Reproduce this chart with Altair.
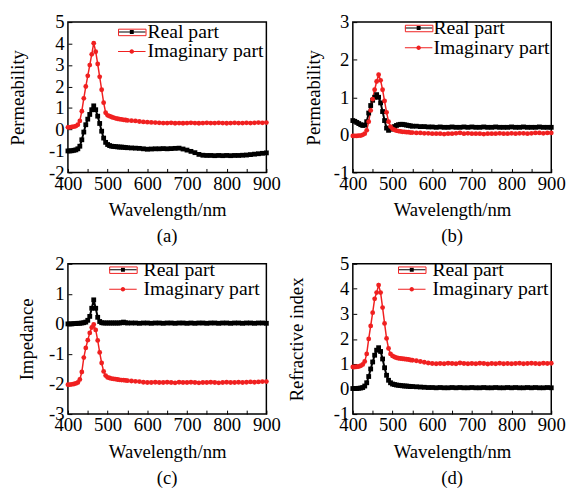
import altair as alt
import pandas as pd

# ---------------- data ----------------
wavelength = [400, 405, 410, 415, 420, 425, 430, 435, 440, 445, 450, 455, 460, 465, 470,
              475, 480, 485, 490, 495, 500, 505, 510, 515, 520, 525, 530, 535, 540, 545, 550,
              560, 570, 580, 590, 600, 610, 620, 630, 640, 650, 660, 670, 680, 690, 700,
              710, 720, 730, 740, 750, 760, 770, 780, 790, 800, 810, 820, 830, 840, 850,
              860, 870, 880, 890, 900]

a_real = [-1.00, -1.00, -0.99, -0.97, -0.95, -0.90, -0.78, -0.48, -0.12, 0.22, 0.48, 0.70, 0.92, 1.10, 0.92,
          0.62, 0.28, -0.08, -0.40, -0.60, -0.70, -0.75, -0.78, -0.79, -0.80, -0.81, -0.82, -0.82, -0.83, -0.84, -0.85,
          -0.86, -0.87, -0.88, -0.90, -0.92, -0.91, -0.90, -0.90, -0.89, -0.90, -0.89, -0.88, -0.87, -0.91, -0.96,
          -1.02, -1.08, -1.16, -1.20, -1.21, -1.21, -1.22, -1.21, -1.22, -1.21, -1.22, -1.21, -1.21, -1.20, -1.19,
          -1.17, -1.15, -1.13, -1.11, -1.09]
a_imag = [0.10, 0.10, 0.12, 0.13, 0.16, 0.22, 0.40, 0.85, 1.45, 2.00, 2.50, 3.00, 3.50, 4.02, 3.62,
          3.05, 2.45, 1.85, 1.25, 0.78, 0.66, 0.62, 0.58, 0.55, 0.52, 0.50, 0.48, 0.47, 0.45, 0.44, 0.42,
          0.41, 0.40, 0.37, 0.35, 0.34, 0.33, 0.32, 0.31, 0.30, 0.30, 0.31, 0.29, 0.30, 0.29, 0.30,
          0.31, 0.30, 0.29, 0.30, 0.31, 0.30, 0.30, 0.31, 0.30, 0.29, 0.30, 0.31, 0.30, 0.30, 0.31,
          0.30, 0.31, 0.32, 0.31, 0.32]

b_real = [0.38, 0.36, 0.33, 0.30, 0.27, 0.25, 0.26, 0.35, 0.58, 0.78, 0.92, 1.00, 1.07, 1.00, 0.85,
          0.62, 0.38, 0.18, 0.12, 0.15, 0.19, 0.22, 0.25, 0.27, 0.28, 0.28, 0.27, 0.26, 0.25, 0.24, 0.23,
          0.23, 0.22, 0.22, 0.21, 0.21, 0.20, 0.21, 0.20, 0.20, 0.21, 0.20, 0.20, 0.21, 0.20, 0.21,
          0.20, 0.20, 0.21, 0.20, 0.20, 0.21, 0.20, 0.20, 0.20, 0.21, 0.20, 0.20, 0.21, 0.20, 0.20,
          0.20, 0.21, 0.20, 0.20, 0.20]
b_imag = [-0.03, -0.03, -0.03, -0.02, -0.02, 0.00, 0.03, 0.12, 0.35, 0.65, 0.95, 1.20, 1.42, 1.60, 1.45,
          1.20, 0.90, 0.60, 0.35, 0.22, 0.16, 0.13, 0.11, 0.10, 0.09, 0.08, 0.08, 0.07, 0.07, 0.06, 0.06,
          0.05, 0.05, 0.04, 0.04, 0.03, 0.03, 0.03, 0.02, 0.03, 0.03, 0.04, 0.05, 0.03, 0.04, 0.03,
          0.03, 0.03, 0.02, 0.03, 0.03, 0.03, 0.04, 0.03, 0.03, 0.04, 0.03, 0.04, 0.04, 0.03, 0.04,
          0.05, 0.05, 0.04, 0.05, 0.05]

c_real = [0.00, 0.00, 0.00, 0.01, 0.01, 0.02, 0.02, 0.03, 0.04, 0.06, 0.12, 0.25, 0.52, 0.80, 0.52,
          0.22, 0.08, 0.04, 0.03, 0.03, 0.03, 0.03, 0.03, 0.03, 0.03, 0.03, 0.03, 0.04, 0.06, 0.04, 0.03,
          0.03, 0.03, 0.02, 0.03, 0.03, 0.02, 0.03, 0.03, 0.02, 0.03, 0.03, 0.02, 0.03, 0.03, 0.02,
          0.03, 0.02, 0.03, 0.03, 0.02, 0.03, 0.03, 0.02, 0.03, 0.03, 0.02, 0.03, 0.03, 0.02, 0.03,
          0.03, 0.02, 0.03, 0.03, 0.02]
c_imag = [-2.02, -2.02, -2.01, -2.00, -1.98, -1.95, -1.85, -1.60, -1.12, -0.80, -0.54, -0.30, -0.12, -0.02, -0.20,
          -0.55, -0.95, -1.30, -1.58, -1.72, -1.78, -1.80, -1.82, -1.83, -1.84, -1.85, -1.86, -1.87, -1.87, -1.88, -1.89,
          -1.90, -1.91, -1.92, -1.94, -1.95, -1.95, -1.94, -1.95, -1.95, -1.94, -1.95, -1.96, -1.94, -1.95, -1.95,
          -1.94, -1.95, -1.96, -1.95, -1.95, -1.94, -1.95, -1.96, -1.95, -1.94, -1.95, -1.95, -1.94, -1.95, -1.94,
          -1.93, -1.94, -1.93, -1.92, -1.92]

d_real = [0.02, 0.02, 0.02, 0.03, 0.04, 0.06, 0.12, 0.25, 0.50, 0.80, 1.08, 1.35, 1.55, 1.65, 1.50,
          1.20, 0.85, 0.55, 0.35, 0.25, 0.20, 0.18, 0.16, 0.15, 0.14, 0.13, 0.12, 0.12, 0.11, 0.10, 0.10,
          0.09, 0.08, 0.07, 0.06, 0.06, 0.05, 0.06, 0.05, 0.05, 0.06, 0.05, 0.06, 0.05, 0.05, 0.06,
          0.05, 0.05, 0.06, 0.05, 0.05, 0.06, 0.05, 0.05, 0.06, 0.05, 0.06, 0.05, 0.05, 0.06, 0.05,
          0.06, 0.05, 0.05, 0.06, 0.05]
d_imag = [0.88, 0.88, 0.89, 0.90, 0.93, 0.98, 1.10, 1.40, 2.00, 2.52, 3.05, 3.60, 3.85, 4.15, 3.85,
          3.25, 2.62, 2.02, 1.62, 1.40, 1.32, 1.28, 1.25, 1.23, 1.22, 1.21, 1.20, 1.19, 1.18, 1.16, 1.15,
          1.13, 1.10, 1.07, 1.04, 1.02, 1.01, 1.02, 1.01, 1.03, 1.02, 1.01, 1.04, 1.02, 1.01, 1.02,
          1.01, 1.03, 1.02, 1.00, 1.02, 1.01, 1.03, 1.01, 1.02, 1.01, 1.02, 1.03, 1.01, 1.02, 1.03,
          1.02, 1.01, 1.03, 1.02, 1.03]

series_names = ["Real part", "Imaginary part"]
x_ticks = [400, 450, 500, 550, 600, 650, 700, 750, 800, 850, 900]

# label, y title, real, imaginary, y domain, y ticks, y title padding,
# legend (x, y, label offset)
panels = [
    ("(a)", "Permeability", a_real, a_imag, [-2, 5], list(range(-2, 6)), 21, (55, 0, 6)),
    ("(b)", "Permeability", b_real, b_imag, [-1, 3], list(range(-1, 4)), 10, (57, -4, 5)),
    ("(c)", "Impedance", c_real, c_imag, [-3, 2], list(range(-3, 3)), 12, (46, -4, 11)),
    ("(d)", "Refractive index", d_real, d_imag, [-1, 5], list(range(-1, 6)), 27, (50, -4, 11)),
]

# ---------------- style ----------------
FONT = "Liberation Serif"
BLACK = "#000000"
RED = "#f02020"
W, H = 202, 153
LEG_FS = 20

# legend symbols: a line segment with the series marker in the middle
sq_path = "M-1.4,-0.05H1.4V0.05H-1.4Z M-0.2,-0.2H0.2V0.2H-0.2Z"
ci_path = ("M-1.4,-0.05H1.4V0.05H-1.4Z M0.23,0A0.23,0.23 0 1,1 -0.23,0"
           "A0.23,0.23 0 1,1 0.23,0Z")
box_path = "M-1.4,-0.33H1.4V0.33H-1.4Z"


def legend_params(lx, ly, loff):
    return alt.Legend(title=None, orient="none", legendX=lx, legendY=ly,
                      padding=0, labelFont=FONT, labelFontSize=LEG_FS,
                      labelColor="black", symbolSize=400,
                      symbolStrokeWidth=0, labelOffset=loff,
                      rowPadding=-10, labelLimit=300)


def make_panel(label, ytitle, real, imag, ydom, yticks, tpad, leg):
    lx, ly, loff = leg
    df = pd.DataFrame({
        "wl": wavelength * 2,
        "value": real + imag,
        "series": [series_names[0]] * len(real) + [series_names[1]] * len(imag),
    })
    x = alt.X("wl:Q", scale=alt.Scale(domain=[400, 900], nice=False),
              axis=alt.Axis(values=x_ticks, title="Wavelength/nm",
                            labelExpr="datum.value % 100 == 0 ? '' + datum.value : ''",
                            tickSize=alt.ExprRef(expr="-4"), labelPadding=6,
                            labelFlush=False, labelOverlap=False, titlePadding=8))
    y = alt.Y("value:Q", scale=alt.Scale(domain=ydom, nice=False, zero=False),
              axis=alt.Axis(values=yticks, title=ytitle,
                            labelExpr="'' + datum.value",
                            tickSize=alt.ExprRef(expr="-4"), labelPadding=8,
                            labelFlush=False, labelOverlap=False, titlePadding=tpad))
    base = alt.Chart(df).encode(x=x, y=y)
    real_f = alt.datum.series == series_names[0]
    imag_f = alt.datum.series == series_names[1]
    real_line = base.transform_filter(real_f).mark_line(color=BLACK, strokeWidth=2)
    real_pts = base.transform_filter(real_f).mark_square(color=BLACK, size=24, opacity=1)
    imag_line = base.transform_filter(imag_f).mark_line(color=RED, strokeWidth=1.5)
    imag_pts = base.transform_filter(imag_f).mark_circle(color=RED, size=24, opacity=1)
    legend_layer = base.transform_filter("false").mark_point(filled=True, opacity=1).encode(
        color=alt.Color("series:N",
                        scale=alt.Scale(domain=series_names, range=[BLACK, RED]),
                        legend=legend_params(lx, ly, loff)),
        shape=alt.Shape("series:N",
                        scale=alt.Scale(domain=series_names, range=[sq_path, ci_path]),
                        legend=legend_params(lx, ly, loff)),
    )
    # thin red frame drawn around the first legend symbol, as in the original figure
    box_layer = base.transform_filter("false").transform_calculate(
        frame="'frame'"
    ).mark_point(filled=False, color=RED, strokeWidth=1, shape=box_path).encode(
        opacity=alt.Opacity("frame:N",
                            scale=alt.Scale(domain=["frame"], range=[1]),
                            legend=alt.Legend(title=None, orient="none", legendX=lx,
                                              legendY=ly, padding=0, labelExpr="''",
                                              labelFontSize=LEG_FS, symbolSize=400,
                                              symbolType=box_path,
                                              symbolStrokeColor=RED,
                                              symbolFillColor="transparent",
                                              symbolStrokeWidth=1, labelOffset=0,
                                              rowPadding=-10)),
    )
    return alt.layer(real_line, imag_line, real_pts, imag_pts, legend_layer, box_layer).properties(
        width=W, height=H,
        title=alt.TitleParams(label, orient="bottom", font=FONT, fontSize=19,
                              fontWeight="normal", color="black", offset=8),
    )


charts = [make_panel(*p) for p in panels]

chart = alt.concat(*charts, columns=2, spacing=alt.RowColnumber(row=93, column=88),
                   bounds="flush").resolve_scale(
    color="independent", shape="independent", opacity="independent"
).properties(
    padding={"left": 0, "top": 0, "right": 0, "bottom": 2},
    background="white",
).configure_view(stroke="black", strokeWidth=1.5).configure_axis(
    labelFont=FONT, titleFont=FONT, labelFontSize=19, titleFontSize=19,
    titleFontWeight="normal", labelColor="black", titleColor="black",
    tickColor="black", tickWidth=1, domain=False, grid=False,
)

chart.save("out.html", embed_options={"renderer": "svg", "actions": False})
